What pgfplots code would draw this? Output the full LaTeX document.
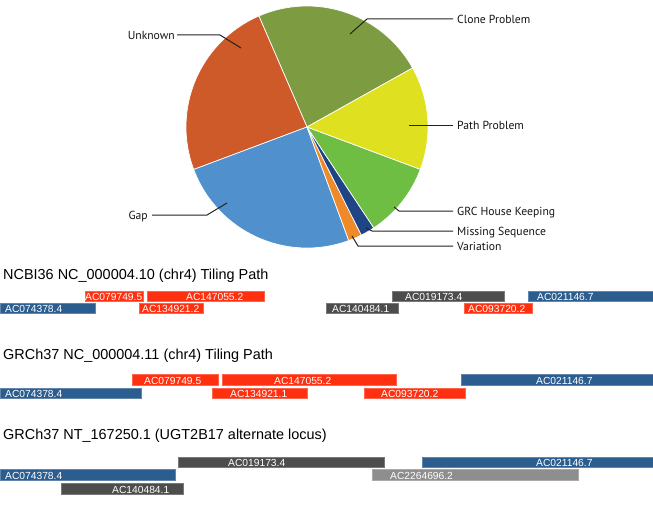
\documentclass[border=0pt]{standalone}
\usepackage{fontspec}
\setmainfont{Liberation Sans}
\newfontfamily\ptsans{PT Sans}
\usepackage{xcolor}
\usepackage{pgfplots}
\usepackage{pgfplotstable}
\pgfplotsset{compat=1.18}

\definecolor{clonec}{HTML}{7D9B40}
\definecolor{unkc}{HTML}{CD5A28}
\definecolor{gapc}{HTML}{5090CD}
\definecolor{varc}{HTML}{F08A28}
\definecolor{misc}{HTML}{1F4585}
\definecolor{grcc}{HTML}{6FBE44}
\definecolor{pathc}{HTML}{DFE120}
\definecolor{barblue}{HTML}{2C5D8F}
\definecolor{barred}{HTML}{FF3010}
\definecolor{bardark}{HTML}{4D4D4D}
\definecolor{barlight}{HTML}{8E8E8E}
\definecolor{leader}{HTML}{222222}

% pie shares in percent, counter-clockwise from the Clone/Path boundary
\pgfplotstableread{
label     pct
Clone     23.4
Unknown   24.2
Gap       24.9
Variation 1.8
Missing   1.9
GRC       10.0
Path      13.8
}\pietab

% one tiling segment: x1 x2 ytop ybottom colour textx label
\newcommand\seg[7]{%
  \addplot[fill=#5, draw=#5!75!white, line width=0.5bp]
    coordinates {(#1,#3) (#2,#3) (#2,#4) (#1,#4)} -- cycle;
  \node[anchor=base west, inner sep=0pt, text=white,
        font=\fontsize{10.3}{10.3}\selectfont] at (axis cs:#6,{#4-0.9}) {#7};
}

\begin{document}
\begin{tikzpicture}
\begin{axis}[
  scale only axis, width=653bp, height=519bp,
  xmin=0, xmax=653, ymin=0, ymax=519, y dir=reverse,
  hide axis, clip=false,
]
% pie
\pgfmathsetmacro\cum{29.2}
\foreach \c [count=\i from 0] in {clonec,unkc,gapc,varc,misc,grcc,pathc}{
  \pgfplotstablegetelem{\i}{pct}\of\pietab
  \pgfmathsetmacro\aa{\cum}
  \pgfmathsetmacro\bb{\cum+3.6*\pgfplotsretval}
  \xdef\cum{\bb}
  \edef\temp{\noexpand\fill[\c, draw=white, line width=0.7bp]
    (axis cs:307,127) -- ++(\aa:121bp) arc[start angle=\aa, end angle=\bb, radius=121bp] -- cycle;}
  \temp
}
% leaders and labels
\begin{scope}[leader, line width=1bp]
\draw (axis cs:350,34) -- (axis cs:367,19) -- (axis cs:453,19);
\draw (axis cs:241,48) -- (axis cs:220,35) -- (axis cs:177,35);
\draw (axis cs:409,125) -- (axis cs:453,125);
\draw (axis cs:394,207) -- (axis cs:399,211) -- (axis cs:453,211);
\draw (axis cs:366,228) -- (axis cs:372,231) -- (axis cs:453,231);
\draw (axis cs:352,236) -- (axis cs:358,246) -- (axis cs:453,246);
\draw (axis cs:227,203) -- (axis cs:207,215) -- (axis cs:152,215);
\end{scope}
\begin{scope}[every node/.style={inner sep=0pt, text=black!92, font=\ptsans\fontsize{11.7}{11.7}\selectfont}]
\node[anchor=base west] at (axis cs:457,23.3) {Clone Problem};
\node[anchor=base east] at (axis cs:175,39.3) {Unknown};
\node[anchor=base west] at (axis cs:457,129.3) {Path Problem};
\node[anchor=base west] at (axis cs:457,215.3) {GRC House Keeping};
\node[anchor=base west] at (axis cs:457,235) {Missing Sequence};
\node[anchor=base west] at (axis cs:457,250) {Variation};
\node[anchor=base east] at (axis cs:148,219) {Gap};
\end{scope}

% track titles
\begin{scope}[every node/.style={anchor=base west, inner sep=0pt, font=\fontsize{14.5}{14.5}\selectfont}]
\node at (axis cs:3,279.3) {NCBI36 NC\_000004.10 (chr4) Tiling Path};
\node at (axis cs:3,359.3) {GRCh37 NC\_000004.11 (chr4) Tiling Path};
\node at (axis cs:3,439.5) {GRCh37 NT\_167250.1 (UGT2B17 alternate locus)};
\end{scope}

% NCBI36
\seg{85}{143}{291.5}{301.5}{barred}{85}{AC079749.5}
\seg{147}{264}{291.5}{301.5}{barred}{186}{AC147055.2}
\seg{392}{504}{291.5}{301.5}{bardark}{405}{AC019173.4}
\seg{528}{653}{291.5}{301.5}{barblue}{537}{AC021146.7}
\seg{0}{95}{303}{313}{barblue}{5}{AC074378.4}
\seg{139}{203}{303}{313}{barred}{142}{AC134921.2}
\seg{326}{398}{303}{313}{bardark}{332}{AC140484.1}
\seg{464}{532}{303}{313}{barred}{468}{AC093720.2}
% GRCh37 chr4
\seg{132}{218}{374.5}{385}{barred}{144}{AC079749.5}
\seg{222}{396}{374.5}{385}{barred}{274}{AC147055.2}
\seg{461}{653}{374.5}{385}{barblue}{536}{AC021146.7}
\seg{0}{141}{388}{398.5}{barblue}{5}{AC074378.4}
\seg{212}{307}{388}{398.5}{barred}{230}{AC134921.1}
\seg{364}{465}{388}{398.5}{barred}{381}{AC093720.2}
% GRCh37 alternate locus
\seg{178}{384}{457}{467.3}{bardark}{228}{AC019173.4}
\seg{422}{653}{457}{467.3}{barblue}{536}{AC021146.7}
\seg{0}{175}{469.5}{480}{barblue}{5}{AC074378.4}
\seg{372}{578}{469.5}{480}{barlight}{390}{AC2264696.2}
\seg{61}{183}{483.3}{494}{bardark}{112}{AC140484.1}
\end{axis}
\pgfresetboundingbox
\path (current axis.south west) rectangle (current axis.north east);
\end{tikzpicture}
\end{document}
